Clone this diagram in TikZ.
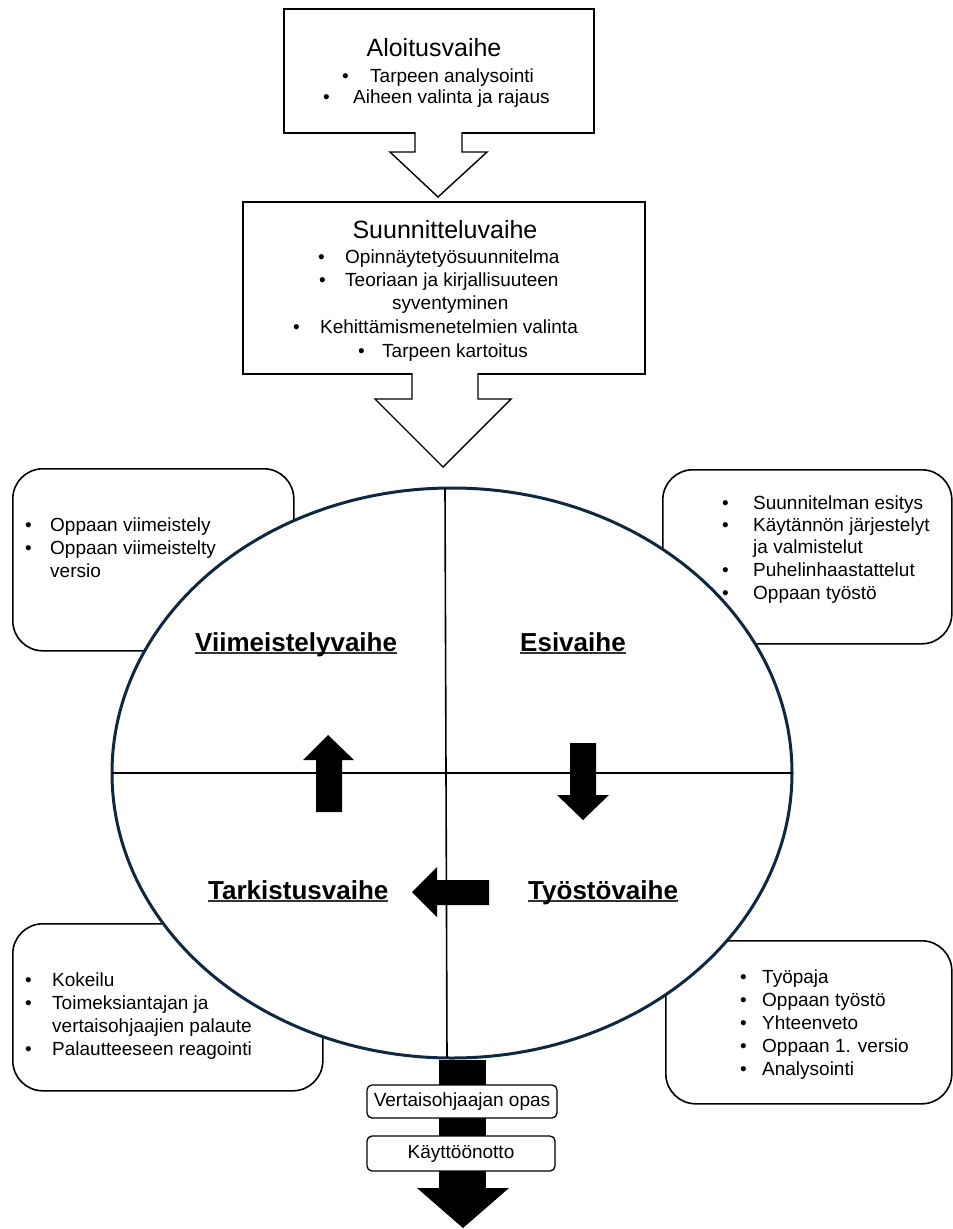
\documentclass[tikz,border=0pt]{standalone}
\usepackage{fontspec}
\setmainfont{Liberation Sans}
\definecolor{ellc}{HTML}{0E2841}
\definecolor{ulc}{HTML}{333333}
\newcommand\bul[2]{\makebox[#1pt][l]{•}#2}
\newcommand\ulh[1]{\setbox0\hbox{#1}\rlap{\color{ulc}\rule[-3.2pt]{\wd0}{1.8pt}}\box0}
\tikzset{
  body/.style={font=\fontsize{19}{23}\selectfont, inner sep=0pt, anchor=base west},
  ttl/.style={font=\fontsize{25}{30}\selectfont, inner sep=0pt, anchor=base},
  head/.style={font=\fontsize{26}{30}\selectfont\bfseries, inner sep=0pt, anchor=base west},
  sqbox/.style={draw, line width=1.6pt, anchor=north west, inner sep=0pt},
  rbox/.style={draw, line width=1.6pt, rounded corners=30pt, fill=white, anchor=north west, inner sep=0pt},
  hollow/.style={draw, line width=1.4pt, fill=white, line join=miter},
  smallbox/.style={draw, line width=1.3pt, rounded corners=5pt, fill=white, inner sep=0pt, font=\fontsize{19}{23}\selectfont},
  divider/.style={line width=1.6pt}
}
\begin{document}
\begin{tikzpicture}[x=1pt,y=-1pt]
\useasboundingbox (0,0) rectangle (953,1229);

% top boxes
\node[sqbox, minimum width=310pt, minimum height=124pt] (b1) at (283,8) {};
\node[sqbox, minimum width=402pt, minimum height=172pt] (b2) at (242,201) {};

% hollow arrows
\draw[hollow] (415,132) -- (415,152) -- (390,152) -- (438,197) -- (487,152) -- (462,152) -- (462,132);
\draw[hollow] (412,373) -- (412,399) -- (375,399) -- (443,467) -- (511,399) -- (478,399) -- (478,373);

% texts box 1
\node[ttl] (t1) at (434,56) {Aloitusvaihe};
\node[body] (t1a) at (342,82.5) {\bul{28}{Tarpeen analysointi}};
\node[body] (t1b) at (323,103.5) {\bul{30}{Aiheen valinta ja rajaus}};

% texts box 2
\node[ttl] (t2) at (445,238) {Suunnitteluvaihe};
\node[body] (t2a) at (318,263.5) {\bul{27}{Opinnäytetyösuunnitelma}};
\node[body] (t2b) at (319,286.5) {\bul{26}{Teoriaan ja kirjallisuuteen}};
\node[body] (t2c) at (392,309.5) {syventyminen};
\node[body] (t2d) at (293,333.5) {\bul{27}{Kehittämismenetelmien valinta}};
\node[body] (t2e) at (358,357.5) {\bul{24}{Tarpeen kartoitus}};

% rounded side boxes
\node[rbox, minimum width=281pt, minimum height=182pt] (tl) at (12,468) {};
\node[rbox, minimum width=289pt, minimum height=174pt] (tr) at (662,469) {};
\node[rbox, minimum width=310pt, minimum height=167pt] (bl) at (12,923) {};
\node[rbox, minimum width=286pt, minimum height=163pt] (br) at (665,940) {};

\node[body] (tla) at (25,531.5) {\bul{25}{Oppaan viimeistely}};
\node[body] (tlb) at (25,554.5) {\bul{25}{Oppaan viimeistelty}};
\node[body] (tlc) at (50,577.5) {versio};

\node[body] (tra) at (722,509.5) {\bul{31}{Suunnitelman esitys}};
\node[body] (trb) at (722,531.5) {\bul{31}{Käytännön järjestelyt}};
\node[body] (trc) at (753,553.5) {ja valmistelut};
\node[body] (trd) at (722,576.5) {\bul{31}{Puhelinhaastattelut}};
\node[body] (tre) at (722,599.5) {\bul{31}{Oppaan työstö}};

\node[body] (bla) at (25,986.5) {\bul{27}{Kokeilu}};
\node[body] (blb) at (25,1009.5) {\bul{27}{Toimeksiantajan ja}};
\node[body] (blc) at (52,1032.5) {vertaisohjaajien palaute};
\node[body] (bld) at (25,1055.5) {\bul{27}{Palautteeseen reagointi}};

\node[body] (bra) at (740,983.5) {\bul{22}{Työpaja}};
\node[body] (brb) at (740,1006.5) {\bul{22}{Oppaan työstö}};
\node[body] (brc) at (740,1029.5) {\bul{22}{Yhteenveto}};
\node[body] (brd) at (740,1052.5) {\bul{22}{Oppaan 1. versio}};
\node[body] (bre) at (740,1075.5) {\bul{22}{Analysointi}};

% ellipse
\draw[draw=ellc, line width=3pt, fill=white] (452,773) ellipse [x radius=340pt, y radius=285pt];
\coordinate (eN) at (445,488);
\coordinate (eS) at (447,1058);
\coordinate (eW) at (112,773);
\coordinate (eE) at (792,773);
\draw[divider] (eN) -- (eS);
\draw[divider] (eW) -- (eE);

% block arrows in ellipse
\fill (316,812) -- (316,760) -- (303,760) -- (328,735) -- (354,760) -- (342,760) -- (342,812) -- cycle;
\fill (570,743) -- (570,795) -- (557,795) -- (583,820) -- (609,795) -- (596,795) -- (596,743) -- cycle;
\fill (489,880) -- (437,880) -- (437,867) -- (412,892) -- (437,917) -- (437,905) -- (489,905) -- cycle;

% headings
\node[head] (hv) at (195,651) {\ulh{Viimeistelyvaihe}};
\node[head] (he) at (520,651) {\ulh{Esivaihe}};
\node[head] (ht) at (208,899) {\ulh{Tarkistusvaihe}};
\node[head] (hy) at (528,899) {\ulh{Työstövaihe}};

% bottom arrow
\fill (439,1060) rectangle (486,1189);
\fill (417,1188) -- (463,1228) -- (509,1188) -- cycle;
\node[smallbox, minimum width=190pt, minimum height=33pt] (vo) at (462,1101.5) {Vertaisohjaajan opas};
\node[smallbox, minimum width=188pt, minimum height=35pt] (ko) at (461,1153.5) {Käyttöönotto};
\end{tikzpicture}
\end{document}
